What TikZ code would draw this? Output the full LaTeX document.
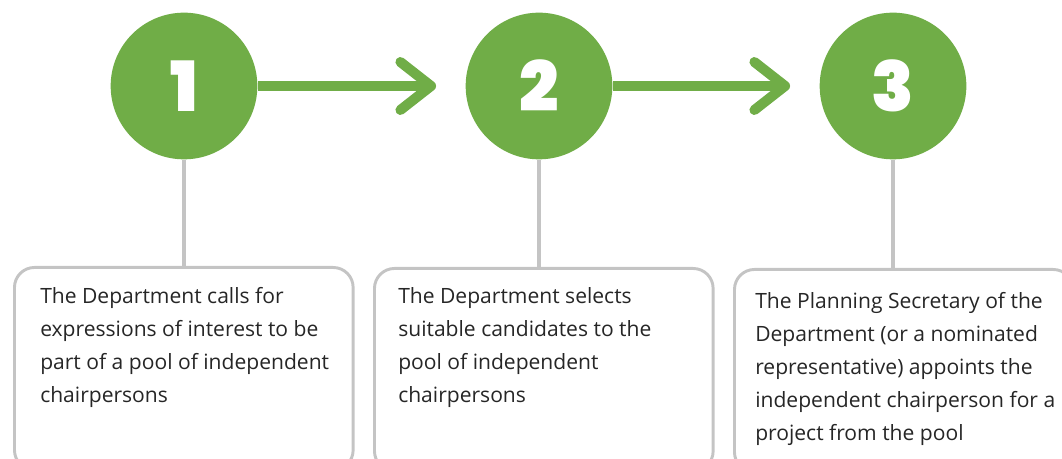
\documentclass[tikz,border=0pt]{standalone}
\usepackage{fontspec}
\setmainfont{Open Sans}
\newfontfamily\digitfont{Poppins}[BoldFont={Poppins Black}]
\usetikzlibrary{arrows.meta}
\usepackage{xcolor}
\definecolor{stepgreen}{HTML}{70AD47}
\definecolor{stemgray}{HTML}{C4C4C4}
\definecolor{boxgray}{HTML}{C4C4C4}
\definecolor{textdark}{HTML}{262626}

\tikzset{
    stepcircle/.style={circle, fill=stepgreen, minimum size=110pt, inner sep=0pt,
        text=white, font=\digitfont\bfseries\fontsize{52}{52}\selectfont},
    flowarrow/.style={stepgreen, line width=7.5pt, shorten >=22pt,
        -{Straight Barb[length=23pt, width=36pt, round]}},
    stemline/.style={stemgray, line width=2.6pt},
    descbox/.style={draw=boxgray, line width=2.2pt, rounded corners=15pt,
        minimum width=254pt, minimum height=152pt, inner sep=0pt},
    desctext/.style={inner sep=0pt, align=left, text=textdark,
        font=\fontsize{15.8}{24.75}\selectfont}
}

\begin{document}
\begin{tikzpicture}[x=0.75pt, y=-0.75pt]
        \useasboundingbox (0,0) rectangle (1062,459);
        % circles
        \node[stepcircle] (step1) at (184,86) {1};
        \node[stepcircle] (step2) at (539,86) {2};
        \node[stepcircle] (step3) at (893,86) {3};
        % arrows
        \draw[flowarrow] (step1) -- (step2);
        \draw[flowarrow] (step2) -- (step3);
        % boxes
        \node[descbox, anchor=north west] (box1) at (13,266) {};
        \node[descbox, anchor=north west] (box2) at (373,267) {};
        \node[descbox, anchor=north west] (box3) at (733,268) {};
        % stems
        \draw[stemline] (step1.south) -- (step1.south |- box1.north);
        \draw[stemline] (step2.south) -- (step2.south |- box2.north);
        \draw[stemline] (step3.south) -- (step3.south |- box3.north);
        % text
        \node[desctext, anchor=north west] (text1) at (40,287)
            {The Department calls for\\expressions of interest to be\\part of a pool of independent\\chairpersons};
        \node[desctext, anchor=north west] (text2) at (398,287)
            {The Department selects\\suitable candidates to the\\pool of independent\\chairpersons};
        \node[desctext, anchor=north west] (text3) at (755,292)
            {The Planning Secretary of the\\Department (or a nominated\\representative) appoints the\\independent chairperson for a\\project from the pool};
    \end{tikzpicture}
\end{document}
